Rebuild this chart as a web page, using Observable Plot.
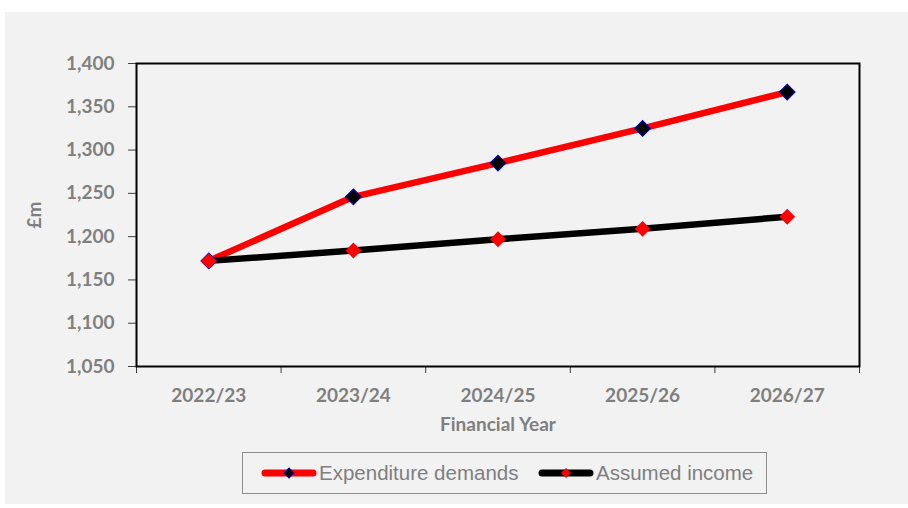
<!DOCTYPE html>
<html>
<head>
<meta charset="utf-8">
<script src="https://cdn.jsdelivr.net/npm/d3@7"></script>
<script src="https://cdn.jsdelivr.net/npm/@observablehq/plot@0.6"></script>
<style>
  html, body { margin: 0; padding: 0; background: #ffffff; }
  body { width: 908px; height: 508px; position: relative; overflow: hidden; }
  #panel { position: absolute; left: 5px; top: 12px; width: 903px; height: 492px; background: #f2f2f2; }
  #chart { position: absolute; left: 0; top: 0; }
  #legend { position: absolute; left: 237px; top: 440px; width: 525px; height: 42px;
            border: 1px solid #8c8c8c; box-sizing: border-box;
            font-family: "Liberation Sans", Arial, sans-serif; font-size: 20.5px; color: #7f7f7f; }
  .item { position: absolute; top: 0; height: 40px; display: flex; align-items: center; }
  .item svg { display: block; margin-right: 2px; }
</style>
</head>
<body>
<div id="panel">
  <div id="chart"></div>
  <div id="legend"></div>
</div>
<script>
const years = ["2022/23", "2023/24", "2024/25", "2025/26", "2026/27"];
const expenditure = [1172, 1246, 1285, 1325, 1367];
const income = [1172, 1184, 1197, 1209, 1223];
const yTicks = [1050, 1100, 1150, 1200, 1250, 1300, 1350, 1400];
const seriesNames = ["Expenditure demands", "Assumed income"];
const lineColors = ["#ff0000", "#000000"];
const markerFills = ["#000000", "#ff0000"];
const markerStrokes = ["#0000cc", "none"];

const idx = years.map((_, i) => i);
const bounds = d3.range(years.length + 1).map(i => i - 0.5);
const expData = years.map((year, i) => ({ i, year, value: expenditure[i] }));
const incData = years.map((year, i) => ({ i, year, value: income[i] }));

const plot = Plot.plot({
  width: 903,
  height: 430,
  marginLeft: 131,
  marginRight: 49,
  marginTop: 51,
  marginBottom: 76,
  style: { background: "transparent", fontFamily: "Lato, sans-serif", fontSize: "19px", fontWeight: "bold", color: "#7f7f7f" },
  x: { type: "linear", domain: [-0.5, years.length - 0.5] },
  y: { domain: [1050, 1400] },
  marks: [
    Plot.axisY({ ticks: yTicks, tickFormat: d3.format(","), tickSize: 8, tickPadding: 14, stroke: "#404040",
                 label: "£m", labelAnchor: "center", labelArrow: "none", labelOffset: 109 }),
    Plot.axisX({ ticks: bounds, tickFormat: () => "", tickSize: 7, stroke: "#404040", label: null }),
    Plot.axisX({ ticks: idx, tickFormat: i => years[i], tickSize: 0, tickPadding: 22,
                 label: "Financial Year", labelAnchor: "center", labelArrow: "none", labelOffset: 64 }),
    Plot.frame({ stroke: "#000", strokeWidth: 2 }),
    Plot.lineY(expData, { x: "i", y: "value", stroke: lineColors[0], strokeWidth: 6.5 }),
    Plot.lineY(incData, { x: "i", y: "value", stroke: lineColors[1], strokeWidth: 6.5 }),
    Plot.dot(expData, { x: "i", y: "value", symbol: "square", rotate: 45, r: 6.3, fill: markerFills[0], stroke: markerStrokes[0], strokeWidth: 1 }),
    Plot.dot(incData, { x: "i", y: "value", symbol: "square", rotate: 45, r: 6.3, fill: markerFills[1], stroke: markerStrokes[1] })
  ]
});
document.getElementById("chart").appendChild(plot);

// Legend
const legend = document.getElementById("legend");
const itemLefts = [18, 295];
seriesNames.forEach((name, k) => {
  const item = document.createElement("div");
  item.className = "item";
  item.style.left = itemLefts[k] + "px";
  const ns = "http://www.w3.org/2000/svg";
  const svg = document.createElementNS(ns, "svg");
  svg.setAttribute("width", 56); svg.setAttribute("height", 14);
  const ln = document.createElementNS(ns, "line");
  ln.setAttribute("x1", 4); ln.setAttribute("x2", 52); ln.setAttribute("y1", 7); ln.setAttribute("y2", 7);
  ln.setAttribute("stroke", lineColors[k]); ln.setAttribute("stroke-width", 7); ln.setAttribute("stroke-linecap", "round");
  svg.appendChild(ln);
  const dm = document.createElementNS(ns, "rect");
  dm.setAttribute("x", 24.5); dm.setAttribute("y", 3.5); dm.setAttribute("width", 7); dm.setAttribute("height", 7);
  dm.setAttribute("transform", "rotate(45 28 7)");
  dm.setAttribute("fill", markerFills[k]);
  if (markerStrokes[k] !== "none") { dm.setAttribute("stroke", markerStrokes[k]); dm.setAttribute("stroke-width", 1); }
  svg.appendChild(dm);
  item.appendChild(svg);
  const t = document.createElement("span");
  t.textContent = name;
  item.appendChild(t);
  legend.appendChild(item);
});
</script>
</body>
</html>
